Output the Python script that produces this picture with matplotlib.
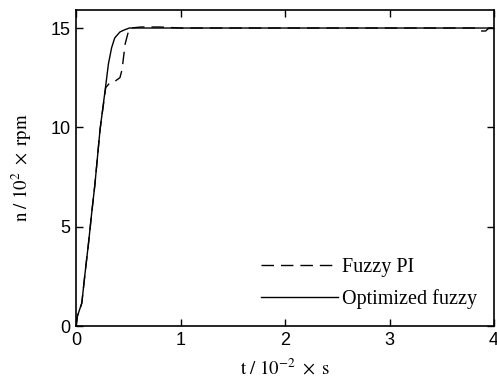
import matplotlib
matplotlib.use("Agg")
import matplotlib.pyplot as plt

plt.rcParams["mathtext.fontset"] = "stix"

# Optimized fuzzy (solid)
t_opt = [0, 0.013, 0.055, 0.086, 0.12, 0.15, 0.18, 0.23, 0.284, 0.31, 0.34, 0.37,
         0.42, 0.46, 0.51, 1.0, 2.0, 3.0, 4.0]
n_opt = [0, 0.5, 1.15, 2.65, 4.2, 5.7, 7.1, 9.9, 12.1, 13.2, 14.0, 14.5,
         14.8, 14.9, 15.0, 15.0, 15.0, 15.0, 15.0]

# Fuzzy PI (dashed)
t_pi = [0, 0.013, 0.055, 0.086, 0.12, 0.15, 0.18, 0.23, 0.284, 0.30, 0.325, 0.38,
        0.42, 0.44, 0.47, 0.50, 0.52, 0.62, 0.8, 1.0, 2.0, 3.0, 3.82, 3.86,
        3.92, 3.95, 4.0]
n_pi = [0, 0.5, 1.15, 2.65, 4.2, 5.7, 7.1, 9.9, 12.0, 12.1, 12.25, 12.35,
        12.5, 12.9, 14.2, 14.8, 15.0, 15.05, 15.05, 15.0, 15.0, 15.0, 15.0, 14.85,
        14.85, 15.0, 15.0]

xticks = [0, 1, 2, 3, 4]
yticks = [0, 5, 10, 15]

fig = plt.figure(figsize=(4.97, 3.9), dpi=100)
ax = fig.add_axes([0.153, 0.164, 0.841, 0.81])

ax.plot(t_pi, n_pi, color="black", lw=1.0, dashes=(9, 5), label="Fuzzy PI")
ax.plot(t_opt, n_opt, color="black", lw=1.0, label="Optimized fuzzy")

ax.set_xlim(0, 4)
ax.set_ylim(0, 15.9)
ax.set_xticks(xticks)
ax.set_yticks(yticks)
ax.tick_params(direction="in", length=5, width=1, top=True, right=True,
               labelsize=13, pad=4)
for lab in ax.get_xticklabels() + ax.get_yticklabels():
    lab.set_family("Liberation Sans")
for s in ax.spines.values():
    s.set_linewidth(1.2)

ax.set_xlabel(r"$\mathrm{t\ /\ 10^{-2}\ \times\ s}$", fontsize=13.5, labelpad=7)
ax.set_ylabel(r"$\mathrm{n\ /\ 10^{2}\ \times\ rpm}$", fontsize=13.5, labelpad=12)

ax.legend(loc="lower right", bbox_to_anchor=(1.0, 0.0), frameon=False,
          prop={"family": "Liberation Serif", "size": 14.5},
          handlelength=3.8, handletextpad=0.2, labelspacing=0.6,
          borderaxespad=0.45)

fig.savefig("out.png", dpi=100)
